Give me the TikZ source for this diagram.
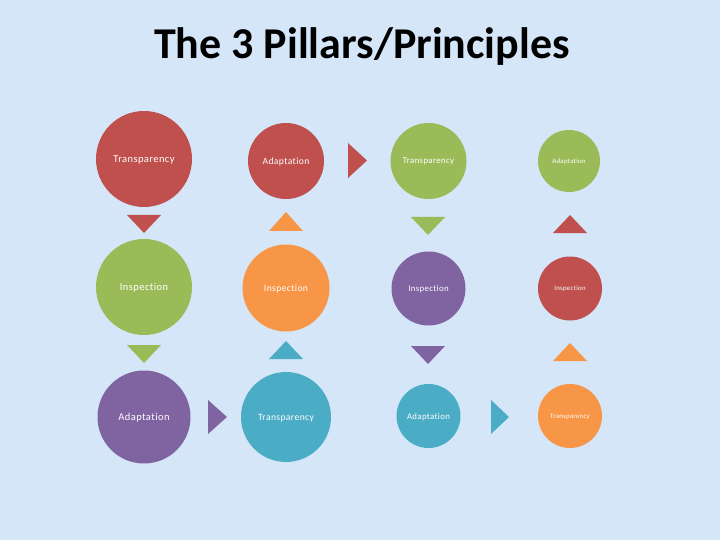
\documentclass[tikz,border=0pt]{standalone}
\usepackage{fontspec}
\setmainfont[Ligatures=NoCommon]{Carlito}
\newfontfamily\pillfont[Ligatures=NoCommon,LetterSpace=4]{Carlito}
\definecolor{bgblue}{RGB}{213,230,248}
\definecolor{cred}{HTML}{C0504D}
\definecolor{cgreen}{HTML}{9BBB59}
\definecolor{cpurple}{HTML}{8064A2}
\definecolor{corange}{HTML}{F79646}
\definecolor{cteal}{HTML}{4BACC6}
\begin{document}
\begin{tikzpicture}[x=1pt,y=-1pt,
  pill/.style={circle,inner sep=0pt,text=white,draw=none,text depth=0pt},
  fa/.style={font=\pillfont\fontsize{10.5}{12}\selectfont},
  fb/.style={font=\pillfont\fontsize{9.6}{11}\selectfont},
  fc/.style={font=\pillfont\fontsize{8.8}{10}\selectfont},
  fd/.style={font=\pillfont\fontsize{6.8}{8}\selectfont},
]
\fill[bgblue] (0,0) rectangle (720,540);
\useasboundingbox (0,0) rectangle (720,540);
\node[anchor=base,font=\fontsize{44}{50}\selectfont\bfseries] (title) at (362,59) {The 3 Pillars/Principles};
% column 1
\node[pill,fill=cred,minimum size=96pt,fa] (c11) at (144,159) {Transparency};
\node[pill,fill=cgreen,minimum size=96pt,fa] (c12) at (144,287) {Inspection};
\node[pill,fill=cpurple,minimum size=93pt,fa] (c13) at (144,417) {Adaptation};
% column 2
\node[pill,fill=cred,minimum size=76pt,fb] (c21) at (286,161) {Adaptation};
\node[pill,fill=corange,minimum size=87pt,fb] (c22) at (286,288) {Inspection};
\node[pill,fill=cteal,minimum size=90pt,fb] (c23) at (286,417) {Transparency};
% column 3
\node[pill,fill=cgreen,minimum size=76pt,fc] (c31) at (428.5,161) {Transparency};
\node[pill,fill=cpurple,minimum size=74pt,fc] (c32) at (428.5,288.5) {Inspection};
\node[pill,fill=cteal,minimum size=64pt,fc] (c33) at (428.5,416) {Adaptation};
% column 4
\node[pill,fill=cgreen,minimum size=62pt,fd] (c41) at (569,161) {Adaptation};
\node[pill,fill=cred,minimum size=64pt,fd] (c42) at (570,288.5) {Inspection};
\node[pill,fill=corange,minimum size=64pt,fd] (c43) at (570,416) {Transparency};
% down triangles
\fill[cred] (127,215) -- (161,215) -- (144,233) -- cycle;
\fill[cgreen] (127,345) -- (161,345) -- (144,363) -- cycle;
\fill[cgreen] (411,217) -- (445,217) -- (428,235) -- cycle;
\fill[cpurple] (411,346) -- (445,346) -- (428,364) -- cycle;
% up triangles
\fill[corange] (269,231) -- (303,231) -- (286,212) -- cycle;
\fill[cteal] (269,359) -- (303,359) -- (286,341) -- cycle;
\fill[cred] (553,233) -- (587,233) -- (570,215) -- cycle;
\fill[corange] (553,361) -- (587,361) -- (570,343) -- cycle;
% right triangles
\fill[cred] (348,143) -- (348,178) -- (367,160.5) -- cycle;
\fill[cpurple] (208,400) -- (208,434) -- (227,417) -- cycle;
\fill[cteal] (491,400) -- (491,434) -- (509,417) -- cycle;
\end{tikzpicture}
\end{document}
